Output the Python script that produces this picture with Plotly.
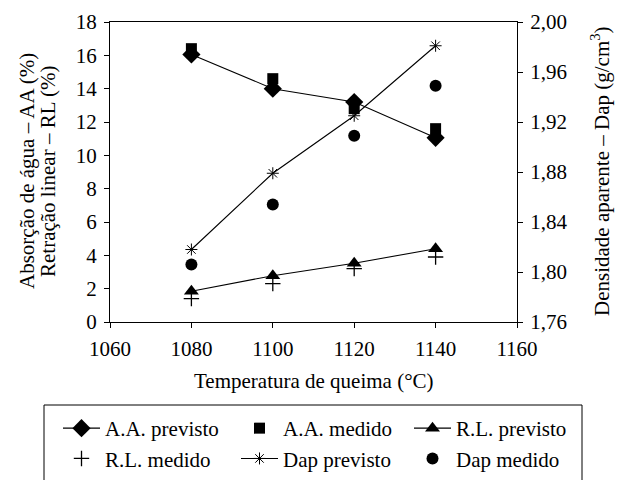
import plotly.graph_objects as go

temps = [1080, 1100, 1120, 1140]
aa_previsto = [16.05, 14.0, 13.2, 11.05]
aa_medido = [16.4, 14.6, 12.8, 11.6]
rl_previsto = [1.85, 2.78, 3.52, 4.4]
rl_medido = [1.4, 2.3, 3.2, 3.9]
dap_previsto = [1.818, 1.879, 1.925, 1.981]
dap_medido = [1.806, 1.854, 1.909, 1.949]

FONT = "Liberation Serif, Times New Roman, DejaVu Serif, serif"
FS = 21
W, H = 619, 480
ML, MR, MT, MB = 110, 102, 22, 158
PW, PH = W - ML - MR, H - MT - MB
line = dict(color="black", width=1.1)


def px_x(p):
    return (p - ML) / PW


def px_y(p):
    return (H - MB - p) / PH


fig = go.Figure()
fig.add_trace(go.Scatter(x=temps, y=aa_previsto, name="A.A. previsto", mode="lines+markers",
                         line=line, legend="legend",
                         marker=dict(symbol="diamond", size=14, color="black")))
fig.add_trace(go.Scatter(x=temps, y=aa_medido, name="A.A. medido", mode="markers",
                         legend="legend2",
                         marker=dict(symbol="square", size=11, color="black")))
fig.add_trace(go.Scatter(x=temps, y=rl_previsto, name="R.L. previsto", mode="lines+markers",
                         line=line, legend="legend3",
                         marker=dict(symbol="triangle-up", size=13, color="black")))
fig.add_trace(go.Scatter(x=temps, y=rl_medido, name="R.L. medido", mode="markers",
                         legend="legend",
                         marker=dict(symbol="cross-thin-open", size=11, color="black",
                                     line=dict(color="black", width=1.3))))
fig.add_trace(go.Scatter(x=temps, y=dap_previsto, name="Dap previsto", mode="lines+markers",
                         yaxis="y2", line=line, legend="legend2",
                         marker=dict(symbol="asterisk-open", size=10, color="black",
                                     line=dict(color="black", width=1))))
fig.add_trace(go.Scatter(x=temps, y=dap_medido, name="Dap medido", mode="markers",
                         yaxis="y2", legend="legend3",
                         marker=dict(symbol="circle", size=12, color="black")))

axis_common = dict(showgrid=False, zeroline=False, showline=True, linecolor="black",
                   linewidth=1, ticks="outside", ticklen=5, tickcolor="black",
                   ticklabelstandoff=3,
                   tickfont=dict(family=FONT, size=FS, color="black"))


def leg(xpx):
    return dict(orientation="v", xref="container", yref="container",
                x=xpx / W, y=1 - 408 / H, xanchor="left", yanchor="top",
                borderwidth=0, bgcolor="rgba(0,0,0,0)",
                font=dict(family=FONT, size=FS, color="black"),
                itemwidth=37, tracegroupgap=0)


fig.update_layout(
    width=W, height=H,
    margin=dict(l=ML, r=MR, t=MT, b=MB, autoexpand=False),
    paper_bgcolor="white", plot_bgcolor="white",
    separators=",.",
    font=dict(family=FONT, size=FS, color="black"),
    xaxis=dict(range=[1060, 1160], dtick=20, mirror=True, automargin=False, **axis_common),
    yaxis=dict(range=[0, 18], dtick=2, automargin=False, **axis_common),
    yaxis2=dict(range=[1.76, 2.00], dtick=0.04, tickformat=".2f", overlaying="y", side="right",
                automargin=False, **axis_common),
    showlegend=True,
    legend=leg(58),
    legend2=leg(236),
    legend3=leg(409),
    shapes=[dict(type="rect", xref="paper", yref="paper",
                 x0=px_x(44), x1=px_x(582), y0=px_y(405), y1=px_y(482),
                 line=dict(color="black", width=1), fillcolor="rgba(0,0,0,0)", layer="above")],
    annotations=[
        dict(text="Temperatura de queima (°C)", xref="paper", yref="paper",
             x=0.5, y=px_y(381), showarrow=False, xanchor="center", yanchor="middle",
             font=dict(family=FONT, size=FS)),
        dict(text="Absorção de água – AA (%)", xref="paper", yref="paper",
             x=px_x(27), y=px_y(171), showarrow=False, textangle=-90,
             xanchor="center", yanchor="middle", font=dict(family=FONT, size=FS)),
        dict(text="Retração linear – RL (%)", xref="paper", yref="paper",
             x=px_x(48), y=px_y(171), showarrow=False, textangle=-90,
             xanchor="center", yanchor="middle", font=dict(family=FONT, size=FS)),
        dict(text="Densidade aparente – Dap (g/cm<sup>3</sup>)", xref="paper", yref="paper",
             x=px_x(600), y=px_y(171), showarrow=False, textangle=-90,
             xanchor="center", yanchor="middle", font=dict(family=FONT, size=FS)),
    ],
)

fig.write_html("out.html")
